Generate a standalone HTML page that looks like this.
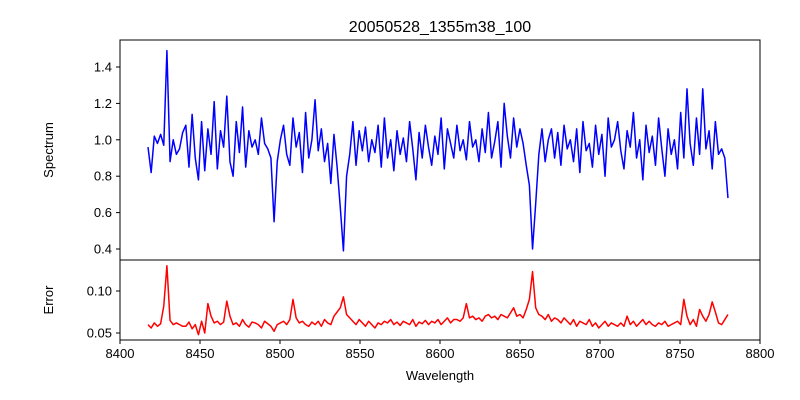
<!DOCTYPE html>
<html><head><meta charset="utf-8"><style>
body{margin:0;background:#fff}
svg{display:block;font-family:"Liberation Sans","DejaVu Sans",sans-serif}
</style></head><body>
<svg id="c" width="800" height="400" viewBox="0 0 800 400">
<rect width="800" height="400" fill="#fff"/>
<text x="440" y="32" text-anchor="middle" font-size="16">20050528_1355m38_100</text>
<text transform="translate(53,150) rotate(-90)" text-anchor="middle" font-size="13">Spectrum</text>
<text transform="translate(53,300) rotate(-90)" text-anchor="middle" font-size="13">Error</text>
<text x="440" y="380" text-anchor="middle" font-size="13">Wavelength</text>
<g id="g"></g>
</svg>
<script>
const startWave = 8417.5, stepWave = 1.97;
const spectrum = [.96,.82,1.02,.98,1.03,.97,1.49,.88,1.00,.92,.95,1.04,
1.08,.85,1.14,.90,.78,1.10,.83,1.06,.92,1.21,
.84,1.05,.96,1.24,.88,.80,1.10,.93,1.18,.85,
1.05,.96,1.00,.92,1.12,.98,.95,.90,.55,.88,
1.00,1.08,.92,.86,1.12,.96,1.04,.82,1.15,.90,
1.00,1.22,.94,1.06,.88,.98,.76,1.03,.85,.63,
.39,.80,.92,1.10,.86,1.05,.94,1.07,.88,1.00,
.93,1.08,.85,1.12,.90,1.00,.83,1.05,.92,
1.01,.88,1.10,.95,.78,1.04,.90,1.08,.96,.86,
1.02,.92,1.12,.84,1.06,.98,.90,1.08,.94,1.00,
.89,1.10,.96,1.00,.88,1.06,.93,1.15,.90,.99,
1.10,.85,1.20,1.02,.90,1.12,.96,1.06,.98,.86,
.75,.40,.65,.92,1.06,.88,1.00,1.06,.90,1.04,
.86,1.08,.95,1.00,.88,1.06,.82,1.10,.94,.98,
.85,1.08,.92,1.03,.80,1.12,.96,1.00,1.10,
.94,.84,1.05,.96,1.15,.90,1.00,.78,1.08,.93,
1.02,.86,1.12,.95,.80,1.06,.92,1.00,.84,1.15,
.90,1.28,.98,.86,1.12,.92,1.28,.95,1.05,.84,
1.10,.92,.95,.90,.68];
const errors = [.060,.056,.062,.058,.061,.082,.130,.065,.060,.062,.060,.058,
.058,.063,.055,.060,.048,.064,.050,.085,.070,.062,
.064,.060,.063,.088,.070,.060,.062,.058,.066,.060,
.057,.063,.062,.060,.056,.064,.061,.058,.052,.060,
.062,.064,.060,.066,.090,.068,.062,.064,.060,.058,
.063,.060,.064,.058,.066,.062,.060,.070,.075,.080,
.093,.072,.068,.064,.060,.066,.062,.058,.064,.060,
.056,.062,.060,.064,.062,.066,.060,.063,.059,
.064,.062,.060,.066,.058,.063,.061,.065,.060,.064,
.062,.066,.060,.064,.068,.062,.066,.066,.064,.068,
.085,.068,.070,.066,.068,.064,.070,.072,.068,.070,
.066,.072,.070,.068,.074,.080,.070,.072,.068,.078,
.090,.123,.080,.072,.070,.066,.072,.064,.068,.066,
.062,.068,.064,.060,.066,.058,.064,.062,.060,.066,
.058,.062,.056,.060,.064,.058,.062,.060,.058,
.062,.058,.070,.060,.064,.058,.062,.066,.060,.064,
.060,.058,.062,.060,.064,.058,.060,.062,.064,.060,
.090,.070,.060,.066,.058,.078,.070,.064,.072,.087,
.075,.062,.060,.066,.072];
const xTicks = [8400,8450,8500,8550,8600,8650,8700,8750,8800];
const specTicks = [0.4,0.6,0.8,1.0,1.2,1.4];
const errTicks = [0.05,0.10];

const NS="http://www.w3.org/2000/svg", g=document.getElementById('g');
const X = w => 120 + (w-8400)*1.6;
const YS = v => 139.8 - (v-1.0)*182;
const YE = v => 333 - (v-0.05)*840;
function mk(t,a){const e=document.createElementNS(NS,t);for(const k in a)e.setAttribute(k,a[k]);g.appendChild(e);return e;}

function series(vals,Y,color,name){
  const d = vals.map((v,i)=>(i?'L':'M')+X(startWave+i*stepWave).toFixed(2)+' '+Y(v).toFixed(2)).join(' ');
  const p = mk('path',{d:d,fill:'none',stroke:color,'stroke-width':1.5,'stroke-linejoin':'round'});
  
  
}
series(spectrum,YS,'#0000ff','spectrum-line');
series(errors,YE,'#ff0000','error-line');

const f1 = mk('rect',{x:120,y:40,width:640,height:220,fill:'none',stroke:'#000','stroke-width':1});


const f2 = mk('rect',{x:120,y:260,width:640,height:80,fill:'none',stroke:'#000','stroke-width':1});



xTicks.forEach(t=>{
  const x=X(t);
  mk('line',{x1:x,y1:340,x2:x,y2:344,stroke:'#000'});
  const tx=mk('text',{x:x,y:358,'text-anchor':'middle','font-size':13});
  tx.textContent=t;
  
  
});
specTicks.forEach(t=>{
  const y=YS(t);
  mk('line',{x1:116,y1:y,x2:120,y2:y,stroke:'#000'});
  const tx=mk('text',{x:112,y:y+4.5,'text-anchor':'end','font-size':13});
  tx.textContent=t.toFixed(1);
  
  
});
errTicks.forEach(t=>{
  const y=YE(t);
  mk('line',{x1:116,y1:y,x2:120,y2:y,stroke:'#000'});
  const tx=mk('text',{x:112,y:y+4.5,'text-anchor':'end','font-size':13});
  tx.textContent=t.toFixed(2);
  
  
});
</script>
</body></html>
